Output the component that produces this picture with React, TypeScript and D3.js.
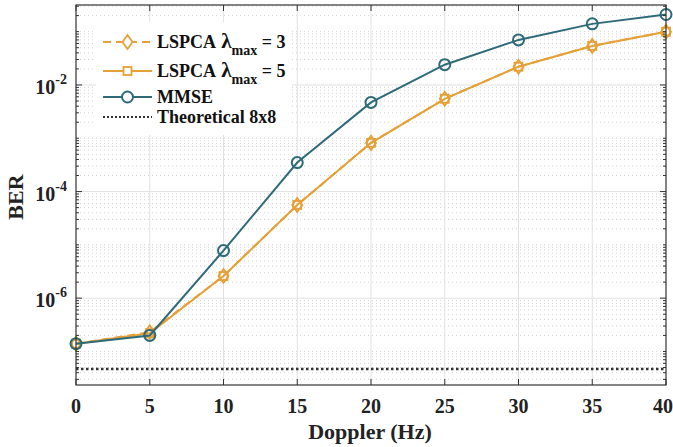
import { useEffect, useRef } from "react"
import * as d3 from "d3"

// data
const dopplers = [0, 5, 10, 15, 20, 25, 30, 35, 40]
const lspca3 = [1.4e-7, 2.3e-7, 2.6e-6, 5.6e-5, 8.2e-4, 5.5e-3, 0.022, 0.054, 0.1]
const lspca5 = [1.4e-7, 2.2e-7, 2.6e-6, 5.6e-5, 8.2e-4, 5.5e-3, 0.022, 0.054, 0.1]
const mmse = [1.4e-7, 2.0e-7, 7.8e-6, 3.5e-4, 4.7e-3, 0.024, 0.07, 0.14, 0.21]
const theoretical = 4.7e-8
const xTicks = [0, 5, 10, 15, 20, 25, 30, 35, 40]
const yMajorExp = [-6, -4, -2]

const ORANGE = "#E5A037"
const TEAL = "#2E6A78"
const FONT = "'Liberation Serif', 'Times New Roman', serif"

export default function App() {
	const ref = useRef<SVGSVGElement>(null)
	const margin = { top: 5, right: 7, bottom: 62, left: 76 }
	const W = 673
	const H = 447
	const width = W - margin.left - margin.right
	const height = H - margin.top - margin.bottom

	useEffect(() => {
		const svg = d3.select(ref.current)
		svg.selectAll("*").remove()
		const g = svg.append("g").attr("transform", `translate(${margin.left},${margin.top})`)

		const x = d3.scaleLinear().domain([0, 40]).range([0, width])
		const y = d3.scaleLog().domain([2.35e-8, 10 ** -0.5]).range([height, 0])

		// minor grid (dotted)
		const minor: number[] = []
		for (let e = -8; e <= 0; e++) {
			for (let m = 1; m <= 9; m++) {
				const v = m * 10 ** e
				if (m === 1 && yMajorExp.includes(e)) continue
				if (v >= y.domain()[0] && v <= y.domain()[1]) minor.push(v)
			}
		}
		g.append("g")
			.selectAll("line")
			.data(minor)
			.enter()
			.append("line")
			.attr("x1", 0)
			.attr("x2", width)
			.attr("y1", (d) => y(d))
			.attr("y2", (d) => y(d))
			.attr("stroke", "#d4d4d4")
			.attr("stroke-width", 1)
			.attr("stroke-dasharray", "1,3")

		// major grid
		g.append("g")
			.selectAll("line")
			.data(yMajorExp)
			.enter()
			.append("line")
			.attr("x1", 0)
			.attr("x2", width)
			.attr("y1", (d) => y(10 ** d))
			.attr("y2", (d) => y(10 ** d))
			.attr("stroke", "#e2e2e2")
		g.append("g")
			.selectAll("line")
			.data(xTicks.slice(1, -1))
			.enter()
			.append("line")
			.attr("x1", (d) => x(d))
			.attr("x2", (d) => x(d))
			.attr("y1", 0)
			.attr("y2", height)
			.attr("stroke", "#e2e2e2")

		// theoretical
		g.append("line")
			.attr("x1", 0)
			.attr("x2", width)
			.attr("y1", y(theoretical))
			.attr("y2", y(theoretical))
			.attr("stroke", "#333")
			.attr("stroke-width", 2.5)
			.attr("stroke-dasharray", "2.5,2.5")

		const line = d3
			.line<number>()
			.x((_, i) => x(dopplers[i]))
			.y((d) => y(d))

		// LSPCA 5 (solid, squares)
		g.append("path")
			.attr("d", line(lspca5))
			.attr("fill", "none")
			.attr("stroke", ORANGE)
			.attr("stroke-width", 2)
		g.append("g")
			.selectAll("rect")
			.data(lspca5)
			.enter()
			.append("rect")
			.attr("x", (_, i) => x(dopplers[i]) - 4)
			.attr("y", (d) => y(d) - 4)
			.attr("width", 8)
			.attr("height", 8)
			.attr("fill", "none")
			.attr("stroke", ORANGE)
			.attr("stroke-width", 1.8)

		// LSPCA 3 (dashed, diamonds)
		g.append("path")
			.attr("d", line(lspca3))
			.attr("fill", "none")
			.attr("stroke", ORANGE)
			.attr("stroke-width", 2)
			.attr("stroke-dasharray", "8,5")
		const diamond = (cx: number, cy: number) =>
			`M${cx},${cy - 7}L${cx + 5},${cy}L${cx},${cy + 7}L${cx - 5},${cy}Z`
		g.append("g")
			.selectAll("path")
			.data(lspca3)
			.enter()
			.append("path")
			.attr("d", (d, i) => diamond(x(dopplers[i]), y(d)))
			.attr("fill", "none")
			.attr("stroke", ORANGE)
			.attr("stroke-width", 1.8)

		// MMSE
		g.append("path")
			.attr("d", line(mmse))
			.attr("fill", "none")
			.attr("stroke", TEAL)
			.attr("stroke-width", 2)
		g.append("g")
			.selectAll("circle")
			.data(mmse)
			.enter()
			.append("circle")
			.attr("cx", (_, i) => x(dopplers[i]))
			.attr("cy", (d) => y(d))
			.attr("r", 5.5)
			.attr("fill", "none")
			.attr("stroke", TEAL)
			.attr("stroke-width", 2)

		// box
		g.append("rect")
			.attr("width", width)
			.attr("height", height)
			.attr("fill", "none")
			.attr("stroke", "#333")
			.attr("stroke-width", 1.2)

		// ticks (inward, on all sides)
		const tk = g.append("g").attr("stroke", "#333").attr("stroke-width", 1)
		xTicks.forEach((t) => {
			tk.append("line").attr("x1", x(t)).attr("x2", x(t)).attr("y1", height).attr("y2", height - 6)
			tk.append("line").attr("x1", x(t)).attr("x2", x(t)).attr("y1", 0).attr("y2", 6)
		})
		yMajorExp.forEach((e) => {
			tk.append("line").attr("x1", 0).attr("x2", 6).attr("y1", y(10 ** e)).attr("y2", y(10 ** e))
			tk.append("line").attr("x1", width).attr("x2", width - 6).attr("y1", y(10 ** e)).attr("y2", y(10 ** e))
		})
		minor.forEach((v) => {
			tk.append("line").attr("x1", 0).attr("x2", 3).attr("y1", y(v)).attr("y2", y(v))
			tk.append("line").attr("x1", width).attr("x2", width - 3).attr("y1", y(v)).attr("y2", y(v))
		})

		// tick labels
		g.append("g")
			.selectAll("text")
			.data(xTicks)
			.enter()
			.append("text")
			.attr("x", (d) => Math.min(x(d), width - 3))
			.attr("y", height + 28)
			.attr("text-anchor", "middle")
			.attr("font-family", FONT)
			.attr("font-weight", "bold")
			.attr("font-size", 20)
			.attr("fill", "#222")
			.text((d) => d)

		const yl = g.append("g")
		yMajorExp.forEach((e) => {
			const t = yl
				.append("text")
				.attr("x", -9)
				.attr("y", y(10 ** e) + 9)
				.attr("text-anchor", "end")
				.attr("font-family", FONT)
				.attr("font-weight", "bold")
				.attr("font-size", 20)
				.attr("fill", "#222")
			t.append("tspan").text("10")
			t.append("tspan").attr("dy", -10).attr("font-size", 14).text(`-${-e}`)
		})

		// axis titles
		svg.append("text")
			.attr("x", 370)
			.attr("y", H - 8)
			.attr("text-anchor", "middle")
			.attr("font-family", FONT)
			.attr("font-weight", "bold")
			.attr("font-size", 22)
			.attr("fill", "#222")
			.text("Doppler (Hz)")
		svg.append("text")
			.attr("transform", `translate(23,197) rotate(-90)`)
			.attr("text-anchor", "middle")
			.attr("font-family", FONT)
			.attr("font-weight", "bold")
			.attr("font-size", 22)
			.attr("fill", "#222")
			.text("BER")

		// legend
		const lg = svg.append("g").attr("transform", "translate(96,22)")
		lg.append("rect").attr("width", 196).attr("height", 113).attr("fill", "white")
		const rows = [
			{ y: 20, color: ORANGE, dash: "8,5", marker: "diamond", label: "LSPCA", sub: true, val: "3" },
			{ y: 49, color: ORANGE, dash: null, marker: "square", label: "LSPCA", sub: true, val: "5" },
			{ y: 75, color: TEAL, dash: null, marker: "circle", label: "MMSE", sub: false, val: "" },
			{ y: 95, color: "#333", dash: "2,2", marker: null, label: "Theoretical 8x8", sub: false, val: "" },
		]
		rows.forEach((r) => {
			const cx = 31.5
			lg.append("line")
				.attr("x1", 7)
				.attr("x2", 56)
				.attr("y1", r.y)
				.attr("y2", r.y)
				.attr("stroke", r.color)
				.attr("stroke-width", 2)
				.attr("stroke-dasharray", r.dash)
			if (r.marker === "diamond")
				lg.append("path").attr("d", diamond(cx, r.y)).attr("fill", "white").attr("stroke", r.color).attr("stroke-width", 1.8)
			if (r.marker === "square")
				lg.append("rect").attr("x", cx - 4).attr("y", r.y - 4).attr("width", 8).attr("height", 8).attr("fill", "white").attr("stroke", r.color).attr("stroke-width", 1.8)
			if (r.marker === "circle")
				lg.append("circle").attr("cx", cx).attr("cy", r.y).attr("r", 5.5).attr("fill", "white").attr("stroke", r.color).attr("stroke-width", 2)
			const t = lg
				.append("text")
				.attr("x", 61)
				.attr("y", r.y + 6)
				.attr("font-family", FONT)
				.attr("font-weight", "bold")
				.attr("font-size", 18)
				.attr("fill", "#111")
			t.append("tspan").text(r.label)
			if (r.sub) {
				t.append("tspan").attr("font-size", 21).text(" λ")
				t.append("tspan").attr("dy", 7).attr("font-size", 14).text("max")
				t.append("tspan").attr("dy", -7).text(` = ${r.val}`)
			}
		})
	}, [])

	return <svg ref={ref} width={W} height={H} style={{ position: "absolute", left: 0, top: 0, background: "white" }}></svg>
}
